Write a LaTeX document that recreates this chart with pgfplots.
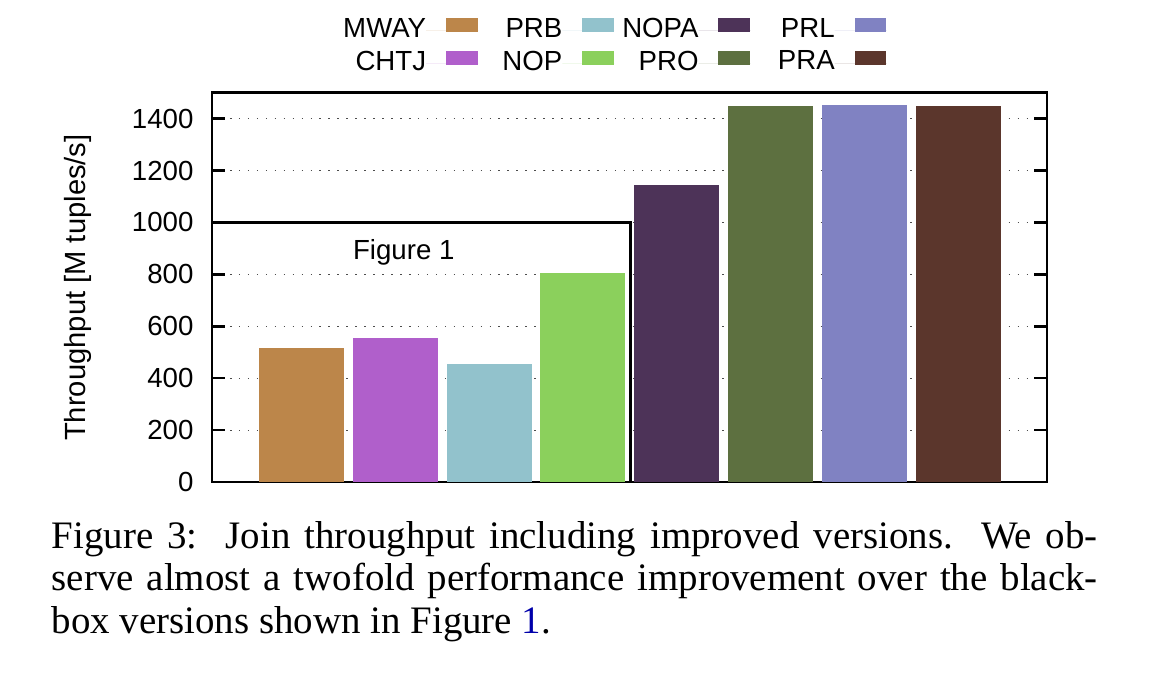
\documentclass[border=0pt]{standalone}
\usepackage{fontspec}
\setmainfont{Liberation Serif}
\newfontfamily\chartsans{Liberation Sans}
\usepackage{pgfplots}
\pgfplotsset{compat=1.18}
\definecolor{cMWAY}{RGB}{188,134,74}
\definecolor{cCHTJ}{RGB}{176,95,203}
\definecolor{cPRB}{RGB}{146,194,204}
\definecolor{cNOP}{RGB}{139,208,92}
\definecolor{cNOPA}{RGB}{77,51,88}
\definecolor{cPRO}{RGB}{93,112,64}
\definecolor{cPRL}{RGB}{128,130,194}
\definecolor{cPRA}{RGB}{91,54,44}
\definecolor{linkblue}{RGB}{0,0,170}
\newcommand\sfs{\chartsans\fontsize{7.1}{8.5}\selectfont}
\newcommand\lbl[1]{\makebox[21.6pt][r]{#1}}
\pgfplotsset{boxlegend/.style={legend image code/.code={\path (0pt,0pt) -- (13.4pt,0pt);\fill[##1] (5.1pt,-0.45pt) rectangle (13.3pt,3.15pt);}}}
\begin{document}
\begin{tikzpicture}
\begin{axis}[
  name=ax, at={(0,0)}, anchor=south west,
  scale only axis, width=214.5pt, height=100.1pt,
  xmin=0.046, xmax=8.946, ymin=0, ymax=1500,
  xtick=\empty,
  ytick={0,200,...,1400},
  ymajorgrids,
  major grid style={black!70, line width=0.3pt, dash pattern=on 0.4pt off 1.9pt},
  tick align=inside, major tick length=3.3pt,
  every tick/.style={black, line width=0.6pt},
  axis line style={line width=0.6pt},
  yticklabel style={font=\sfs, inner sep=0pt, xshift=-4.6pt},
  /pgf/number format/assume math mode=true,
  /pgf/number format/set thousands separator={},
  bar width=0.906,
  legend columns=4,
  legend plot pos=right,
  legend style={draw=none, fill=none, inner sep=0pt, at={(axis description cs:0,1)}, anchor=north west,
    xshift=33.2pt, yshift=19.4pt, column sep=0pt, row sep=2.0pt, font=\sfs,
    nodes={inner sep=0pt}},
]
\addplot[ybar, bar shift=0pt, draw=none, fill=cMWAY, boxlegend] coordinates {(1,518)};
\addlegendentry{\lbl{MWAY}}
\addplot[ybar, bar shift=0pt, draw=none, fill=cPRB, boxlegend] coordinates {(3,456)};
\addlegendentry{\lbl{PRB}}
\addplot[ybar, bar shift=0pt, draw=none, fill=cNOPA, boxlegend] coordinates {(5,1146)};
\addlegendentry{\lbl{NOPA}}
\addplot[ybar, bar shift=0pt, draw=none, fill=cPRL, boxlegend] coordinates {(7,1453)};
\addlegendentry{\lbl{PRL}}
\addplot[ybar, bar shift=0pt, draw=none, fill=cCHTJ, boxlegend] coordinates {(2,556)};
\addlegendentry{\lbl{CHTJ}}
\addplot[ybar, bar shift=0pt, draw=none, fill=cNOP, boxlegend] coordinates {(4,806)};
\addlegendentry{\lbl{NOP}}
\addplot[ybar, bar shift=0pt, draw=none, fill=cPRO, boxlegend] coordinates {(6,1449)};
\addlegendentry{\lbl{PRO}}
\addplot[ybar, bar shift=0pt, draw=none, fill=cPRA, boxlegend] coordinates {(8,1449)};
\addlegendentry{\lbl{PRA}}
\draw[line width=0.6pt] (axis cs:0.046,1000) -- (axis cs:4.506,1000) -- (axis cs:4.506,0);
\node[anchor=base, font=\sfs, inner sep=0pt] at (axis cs:2.09,859) {Figure 1};
\end{axis}
\node[rotate=90, font=\chartsans\fontsize{7.5}{9}\selectfont, inner sep=0pt] at (-34.4pt,50pt) {Throughput [M tuples/s]};
\node[anchor=base west, inner sep=0pt] at (-41.4pt,-17pt) {\fontsize{10}{11}\selectfont\makebox[268.8pt][s]{Figure 3:\ \ Join throughput including improved versions.\ \ We ob-}};
\node[anchor=base west, inner sep=0pt] at (-41.4pt,-27.9pt) {\fontsize{10}{11}\selectfont\makebox[268.8pt][s]{serve almost a twofold performance improvement over the black-}};
\node[anchor=base west, inner sep=0pt] at (-41.4pt,-38.9pt) {\fontsize{10}{11}\selectfont box versions shown in Figure \textcolor{linkblue}{1}.};
\pgfresetboundingbox
\path (-54.5pt,-52.9pt) rectangle (247.7pt,123.9pt);
\end{tikzpicture}
\end{document}
